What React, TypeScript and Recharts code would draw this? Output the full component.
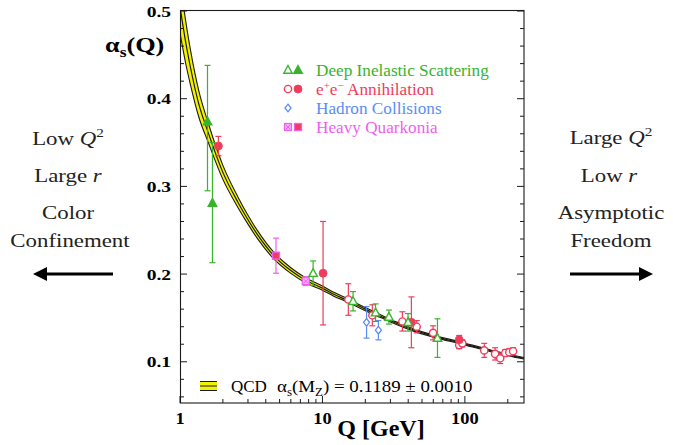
import { ComposedChart, Area, Line, Scatter, ErrorBar, XAxis, YAxis } from "recharts";

// QCD running coupling band (centre line and half-width)
const qcdQ = [1, 1.1, 1.18, 1.35, 1.58, 2, 2.55, 3, 3.5, 4.5, 6, 7.6, 10, 12, 15, 20, 25.6, 33, 41.7, 61, 93, 152, 260];
const qcdMid = [0.505, 0.463, 0.437, 0.395, 0.361, 0.316, 0.282, 0.262, 0.245, 0.222, 0.204, 0.193, 0.184, 0.177, 0.17, 0.16, 0.152, 0.144, 0.1375, 0.129, 0.1215, 0.1125, 0.104];
const qcdErr = [0.03, 0.024, 0.02, 0.015, 0.011, 0.008, 0.006, 0.005, 0.0045, 0.0038, 0.0032, 0.0028, 0.0024, 0.0022, 0.002, 0.0018, 0.0016, 0.0015, 0.0014, 0.0012, 0.0011, 0.001, 0.0009];

// Deep inelastic scattering
const disOpenQ = [8.6, 16.4, 23.6, 29.3, 39.9, 64.2];
const disOpenA = [0.201, 0.169, 0.156, 0.151, 0.145, 0.127];
const disOpenErr = [0.014, 0.011, 0.01, 0.008, 0.01, 0.022];
const disFilledQ = [1.56, 1.69];
const disFilledA = [0.374, 0.281];
const disFilledLo = [0.079, 0.068];
const disFilledHi = [0.064, 0.069];

// e+e- annihilation
const eeOpenQ = [15.2, 22.4, 36.4, 45.9, 59.8, 91.2, 96, 136.8, 163, 177, 192, 205, 218];
const eeOpenA = [0.171, 0.153, 0.146, 0.14, 0.133, 0.119, 0.121, 0.113, 0.109, 0.104, 0.11, 0.111, 0.112];
const eeOpenErr = [0.018, 0.012, 0.011, 0.007, 0.008, 0.004, 0.004, 0.008, 0.007, 0.006, 0.004, 0.004, 0.004];
const eeFilledQ = [1.86, 10.1, 42.1, 91.2];
const eeFilledA = [0.346, 0.201, 0.145, 0.125];
const eeFilledErr = [0.011, 0.059, 0.029, 0.005];

// hadron collisions
const hadronQ = [20.4, 24.7];
const hadronA = [0.145, 0.136];
const hadronErr = [0.018, 0.011];

// heavy quarkonia
const quarkOpenQ = [7.63];
const quarkOpenA = [0.192];
const quarkOpenErr = [0.005];
const quarkFilledQ = [4.72];
const quarkFilledA = [0.221];
const quarkFilledErr = [0.02];

const xTicks = [1, 2, 3, 4, 5, 6, 7, 8, 9, 10, 20, 30, 40, 50, 60, 70, 80, 90, 100, 200];
const xLabels = ["1", "10", "100"];
const yTicks = [0.06, 0.08, 0.1, 0.12, 0.14, 0.16, 0.18, 0.2, 0.22, 0.24, 0.26, 0.28, 0.3, 0.32, 0.34, 0.36, 0.38, 0.4, 0.42, 0.44, 0.46, 0.48, 0.5];
const yLabels = ["0.1", "0.2", "0.3", "0.4", "0.5"];

const W = 673, H = 445;
const PL = 180, PR = 524, PT = 11, PB = 403;
const SERIF = '"Liberation Serif", "Times New Roman", serif';
const INK = "#1a1a1a";
const GREEN = "#38b42c", RED = "#f03c5c", BLUE = "#5b8df2", MAG = "#ef5eef", YEL = "#f2f200";

const qcdData = qcdQ.map((q, i) => ({
  q,
  mid: qcdMid[i],
  band: [qcdMid[i] - qcdErr[i], qcdMid[i] + qcdErr[i]],
}));

const pts = (qs: number[], as: number[], lo: number[], hi?: number[]) =>
  qs.map((q, i) => ({ q, a: as[i], err: [lo[i], (hi || lo)[i]] }));

function Glyph({ kind, cx, cy }: { kind: string; cx: number; cy: number }) {
  if (cx == null || cy == null) return <g />;
  switch (kind) {
    case "triOpen":
    case "triFilled": {
      const f = kind === "triFilled";
      return (
        <path
          d={`M${cx},${cy - 4.5}L${cx + 4.2},${cy + 3.2}L${cx - 4.2},${cy + 3.2}Z`}
          fill={f ? GREEN : "#fff"}
          stroke={GREEN}
          strokeWidth={1.4}
        />
      );
    }
    case "circOpen":
      return <circle cx={cx} cy={cy} r={3.6} fill="#fff" stroke={RED} strokeWidth={1.4} />;
    case "circFilled":
      return <circle cx={cx} cy={cy} r={4} fill={RED} stroke={RED} strokeWidth={0.8} />;
    case "diamond":
      return (
        <path
          d={`M${cx},${cy - 3.8}L${cx + 3},${cy}L${cx},${cy + 3.8}L${cx - 3},${cy}Z`}
          fill="#fff"
          stroke={BLUE}
          strokeWidth={1.3}
        />
      );
    case "sqOpen":
      return (
        <g>
          <rect x={cx - 3.5} y={cy - 3.5} width={7} height={7} fill="#f7b3f7" stroke={MAG} strokeWidth={1.2} />
          <path d={`M${cx - 2.5},${cy - 2.5}L${cx + 2.5},${cy + 2.5}M${cx + 2.5},${cy - 2.5}L${cx - 2.5},${cy + 2.5}`} stroke={MAG} strokeWidth={1} />
        </g>
      );
    default:
      return <rect x={cx - 3.5} y={cy - 3.5} width={7} height={7} fill={RED} stroke={MAG} strokeWidth={1.3} />;
  }
}

const shape = (kind: string) => (p: any) => <Glyph kind={kind} cx={p.cx} cy={p.cy} />;

function LeftTick(props: any) {
  const { y, payload } = props;
  const lab = yLabels.find((l) => Number(l) === payload.value);
  return (
    <g>
      <line x1={PL} x2={PL + (lab ? 7 : 4)} y1={y} y2={y} stroke={INK} strokeWidth={1} />
      {lab && (
        <g transform={`translate(${PL - 9},${y + 5.5}) scale(1.3,1)`}>
          <text textAnchor="end" fontFamily={SERIF} fontWeight="bold" fontSize={15} fill="#000">
            {lab}
          </text>
        </g>
      )}
    </g>
  );
}

function RightTick(props: any) {
  const { y, payload } = props;
  const lab = yLabels.find((l) => Number(l) === payload.value);
  return <line x1={PR} x2={PR - (lab ? 7 : 4)} y1={y} y2={y} stroke={INK} strokeWidth={1} />;
}

function BottomTick(props: any) {
  const { x, payload } = props;
  const lab = xLabels.find((l) => Number(l) === payload.value);
  return (
    <g>
      <line x1={x} x2={x} y1={PB} y2={PB - (lab ? 7 : 4)} stroke={INK} strokeWidth={1} />
      {lab && (
        <g transform={`translate(${x},${PB + 21}) scale(1.15,1)`}>
          <text textAnchor="middle" fontFamily={SERIF} fontWeight="bold" fontSize={16} fill="#000">
            {lab}
          </text>
        </g>
      )}
    </g>
  );
}

function Side({ x, y, children }: { x: number; y: number; children: any }) {
  return (
    <g transform={`translate(${x},${y}) scale(1.27,1)`}>
      <text textAnchor="middle" fontFamily={SERIF} fontSize={18} fill="#222">
        {children}
      </text>
    </g>
  );
}

function Overlay() {
  const rows = [
    { y: 70, k: ["triOpen", "triFilled"], c: GREEN, t: <tspan>Deep Inelastic Scattering</tspan> },
    {
      y: 89,
      k: ["circOpen", "circFilled"],
      c: RED,
      t: (
        <>
          <tspan>e</tspan>
          <tspan fontSize={11} dy={-6}>+</tspan>
          <tspan dy={6}>e</tspan>
          <tspan fontSize={11} dy={-6}>−</tspan>
          <tspan dy={6}> Annihilation</tspan>
        </>
      ),
    },
    { y: 108, k: ["diamond"], c: BLUE, t: <tspan>Hadron Collisions</tspan> },
    { y: 127, k: ["sqOpen", "sqFilled"], c: MAG, t: <tspan>Heavy Quarkonia</tspan> },
  ];
  return (
    <svg width={W} height={H} style={{ position: "absolute", left: 0, top: 0, pointerEvents: "none" }}>
      <rect x={PL + 0.5} y={PT - 0.5} width={PR - PL - 0.5} height={PB - PT + 0.5} fill="none" stroke={INK} strokeWidth={1.1} />

      {rows.map((r) => (
        <g key={r.y}>
          {r.k.map((k, j) => (
            <Glyph key={k} kind={k} cx={288 + j * 10} cy={r.y} />
          ))}
          <text x={316} y={r.y + 5.5} fontFamily={SERIF} fontSize={17.2} fill={r.c}>
            {r.t}
          </text>
        </g>
      ))}

      <rect x={200} y={381} width={17} height={10} fill={YEL} />
      <path d="M200,381.5H217M200,386H217M200,390.5H217" stroke={INK} strokeWidth={1.2} />
      <text x={231} y={392} fontFamily={SERIF} fontSize={17} fill="#000">QCD</text>
      <g transform="translate(277,392) scale(1.08,1)">
        <text fontFamily={SERIF} fontSize={17.5} fill="#000">
          <tspan>α</tspan>
          <tspan fontSize={12} dy={4}>s</tspan>
          <tspan dy={-4}>(M</tspan>
          <tspan fontSize={12} dy={4}>Z</tspan>
          <tspan dy={-4}>) = 0.1189 ± 0.0010</tspan>
        </text>
      </g>

      <g transform="translate(105,52) scale(1.25,1)">
        <text fontFamily={SERIF} fontWeight="bold" fontSize={21} fill="#000">
          <tspan>α</tspan>
          <tspan fontSize={14} dy={5}>s</tspan>
          <tspan dy={-5}>(Q)</tspan>
        </text>
      </g>
      <text x={381} y={436} textAnchor="middle" fontFamily={SERIF} fontWeight="bold" fontSize={24} fill="#000">
        Q [GeV]
      </text>

      <Side x={68} y={145}>
        <tspan>Low </tspan>
        <tspan fontStyle="italic">Q</tspan>
        <tspan fontSize={12} dy={-8}>2</tspan>
      </Side>
      <Side x={68} y={182}>
        <tspan>Large </tspan>
        <tspan fontStyle="italic">r</tspan>
      </Side>
      <Side x={68} y={219}>Color</Side>
      <Side x={70} y={247}>Confinement</Side>
      <line x1={46} x2={113} y1={274} y2={274} stroke="#000" strokeWidth={3} />
      <path d="M33,274L47,267L47,281Z" fill="#000" />

      <Side x={611} y={144}>
        <tspan>Large </tspan>
        <tspan fontStyle="italic">Q</tspan>
        <tspan fontSize={12} dy={-8}>2</tspan>
      </Side>
      <Side x={609} y={182}>
        <tspan>Low </tspan>
        <tspan fontStyle="italic">r</tspan>
      </Side>
      <Side x={611} y={219}>Asymptotic</Side>
      <Side x={611} y={247}>Freedom</Side>
      <line x1={570} x2={640} y1={274} y2={274} stroke="#000" strokeWidth={3} />
      <path d="M653,274L639,267L639,281Z" fill="#000" />
    </svg>
  );
}

export default function App() {
  return (
    <div style={{ position: "absolute", left: 0, top: 0, width: W, height: H, background: "#fff" }}>
      <ComposedChart width={W} height={H} margin={{ top: PT, right: W - PR - 10, bottom: H - PB - 30, left: PL - 40 }}>
        <XAxis
          dataKey="q"
          type="number"
          scale="log"
          domain={[1, 260]}
          allowDataOverflow
          ticks={xTicks}
          interval={0}
          height={30}
          axisLine={false}
          tickLine={false}
          tick={<BottomTick />}
        />
        <YAxis
          dataKey="a"
          type="number"
          domain={[0.053, 0.5]}
          allowDataOverflow
          ticks={yTicks}
          interval={0}
          width={40}
          axisLine={false}
          tickLine={false}
          tick={<LeftTick />}
        />
        <YAxis
          yAxisId="r"
          orientation="right"
          type="number"
          domain={[0.053, 0.5]}
          allowDataOverflow
          ticks={yTicks}
          interval={0}
          width={10}
          axisLine={false}
          tickLine={false}
          tick={<RightTick />}
        />
        <Area
          data={qcdData}
          dataKey="band"
          type="monotone"
          fill={YEL}
          fillOpacity={1}
          stroke={INK}
          strokeWidth={1.1}
          dot={false}
          activeDot={false}
          isAnimationActive={false}
        />
        <Line
          data={qcdData}
          dataKey="mid"
          type="monotone"
          stroke={INK}
          strokeWidth={1.2}
          dot={false}
          activeDot={false}
          isAnimationActive={false}
        />
        <Scatter data={pts(quarkFilledQ, quarkFilledA, quarkFilledErr)} dataKey="a" shape={shape("sqFilled")} isAnimationActive={false}>
          <ErrorBar dataKey="err" direction="y" width={3} stroke={MAG} strokeWidth={1.2} />
        </Scatter>
        <Scatter data={pts(quarkOpenQ, quarkOpenA, quarkOpenErr)} dataKey="a" shape={shape("sqOpen")} isAnimationActive={false}>
          <ErrorBar dataKey="err" direction="y" width={3} stroke={MAG} strokeWidth={1.2} />
        </Scatter>
        <Scatter data={pts(hadronQ, hadronA, hadronErr)} dataKey="a" shape={shape("diamond")} isAnimationActive={false}>
          <ErrorBar dataKey="err" direction="y" width={3} stroke={BLUE} strokeWidth={1.2} />
        </Scatter>
        <Scatter data={pts(eeOpenQ, eeOpenA, eeOpenErr)} dataKey="a" shape={shape("circOpen")} isAnimationActive={false}>
          <ErrorBar dataKey="err" direction="y" width={3} stroke={RED} strokeWidth={1.2} />
        </Scatter>
        <Scatter data={pts(eeFilledQ, eeFilledA, eeFilledErr)} dataKey="a" shape={shape("circFilled")} isAnimationActive={false}>
          <ErrorBar dataKey="err" direction="y" width={3} stroke={RED} strokeWidth={1.2} />
        </Scatter>
        <Scatter data={pts(disOpenQ, disOpenA, disOpenErr)} dataKey="a" shape={shape("triOpen")} isAnimationActive={false}>
          <ErrorBar dataKey="err" direction="y" width={3} stroke={GREEN} strokeWidth={1.2} />
        </Scatter>
        <Scatter data={pts(disFilledQ, disFilledA, disFilledLo, disFilledHi)} dataKey="a" shape={shape("triFilled")} isAnimationActive={false}>
          <ErrorBar dataKey="err" direction="y" width={3} stroke={GREEN} strokeWidth={1.2} />
        </Scatter>
      </ComposedChart>
      <Overlay />
    </div>
  );
}
